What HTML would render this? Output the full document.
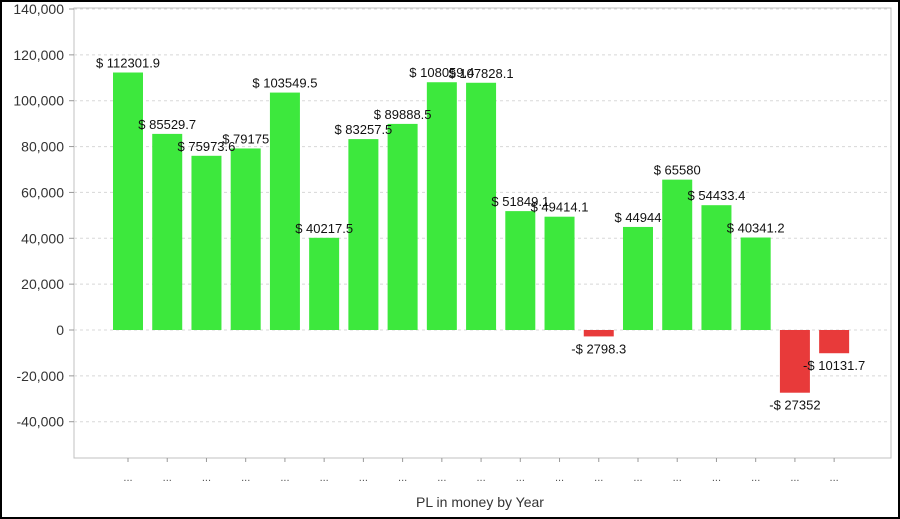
<!DOCTYPE html>
<html><head><meta charset="utf-8"><style>
html,body{margin:0;padding:0;background:#fff}
svg{display:block;font-family:"Liberation Sans",sans-serif}
</style></head><body>
<svg id="chart" width="900" height="519" viewBox="0 0 900 519">
<rect x="1" y="1" width="898" height="517" fill="#fff" stroke="#000" stroke-width="2"/>
<rect x="74" y="8" width="817" height="450" fill="#fff" stroke="#c0c0c0" stroke-width="1"/>
<g id="grid"></g><g id="bars"></g><g id="labels"></g><g id="axes"></g>
<text x="480" y="507" text-anchor="middle" font-size="14" fill="#333">PL in money by Year</text>
</svg>
<script>
const categories = ["...","...","...","...","...","...","...","...","...","...","...","...","...","...","...","...","...","...","..."];
const values = [112301.9,85529.7,75973.6,79175,103549.5,40217.5,83257.5,89888.5,108059.4,107828.1,51849.1,49414.1,-2798.3,44944,65580,54433.4,40341.2,-27352,-10131.7];
const labelTexts = ["$ 112301.9","$ 85529.7","$ 75973.6","$ 79175","$ 103549.5","$ 40217.5","$ 83257.5","$ 89888.5","$ 108059.4","$ 107828.1","$ 51849.1","$ 49414.1","-$ 2798.3","$ 44944","$ 65580","$ 54433.4","$ 40341.2","-$ 27352","-$ 10131.7"];
const yTicks = [140000,120000,100000,80000,60000,40000,20000,0,-20000,-40000];
const yTickLabels = ["140,000","120,000","100,000","80,000","60,000","40,000","20,000","0","-20,000","-40,000"];
const NS="http://www.w3.org/2000/svg";
function y(v){return 330 - v*(321/140000);}
function xc(i){return 128 + i*39.23;}
function mk(tag,attrs,parent){const e=document.createElementNS(NS,tag);for(const k in attrs)e.setAttribute(k,attrs[k]);document.getElementById(parent).appendChild(e);return e;}
yTicks.forEach((t,i)=>{
  const g=mk('line',{x1:74,x2:891,y1:y(t),y2:y(t),stroke:'#d8d8d8','stroke-dasharray':'3,3'},'grid');
  
  
  const tk=mk('line',{x1:69,x2:74,y1:y(t),y2:y(t),stroke:'#999'},'axes');
  
  
  const tl=mk('text',{x:64,y:y(t)+5,'text-anchor':'end','font-size':'14',fill:'#333'},'axes');
  tl.textContent=yTickLabels[i];
  
  
});
values.forEach((v,i)=>{
  const top=Math.min(y(v),y(0)),h=Math.abs(y(v)-y(0));
  const b=mk('rect',{x:xc(i)-15,y:top,width:30,height:h,fill:v>=0?'#3de83d':'#e83a3a'},'bars');
  
  
  const ly=v>=0?y(v)-5:y(v)+17;
  const l=mk('text',{x:xc(i),y:ly,'text-anchor':'middle','font-size':'13',fill:'#111'},'labels');
  l.textContent=labelTexts[i];
  
  
  const tk=mk('line',{x1:xc(i),x2:xc(i),y1:458,y2:462,stroke:'#999'},'axes');
  
  
  const c=mk('text',{x:xc(i),y:481,'text-anchor':'middle','font-size':'11',fill:'#555'},'axes');
  c.textContent=categories[i];
  
  
});
</script>
</body></html>
